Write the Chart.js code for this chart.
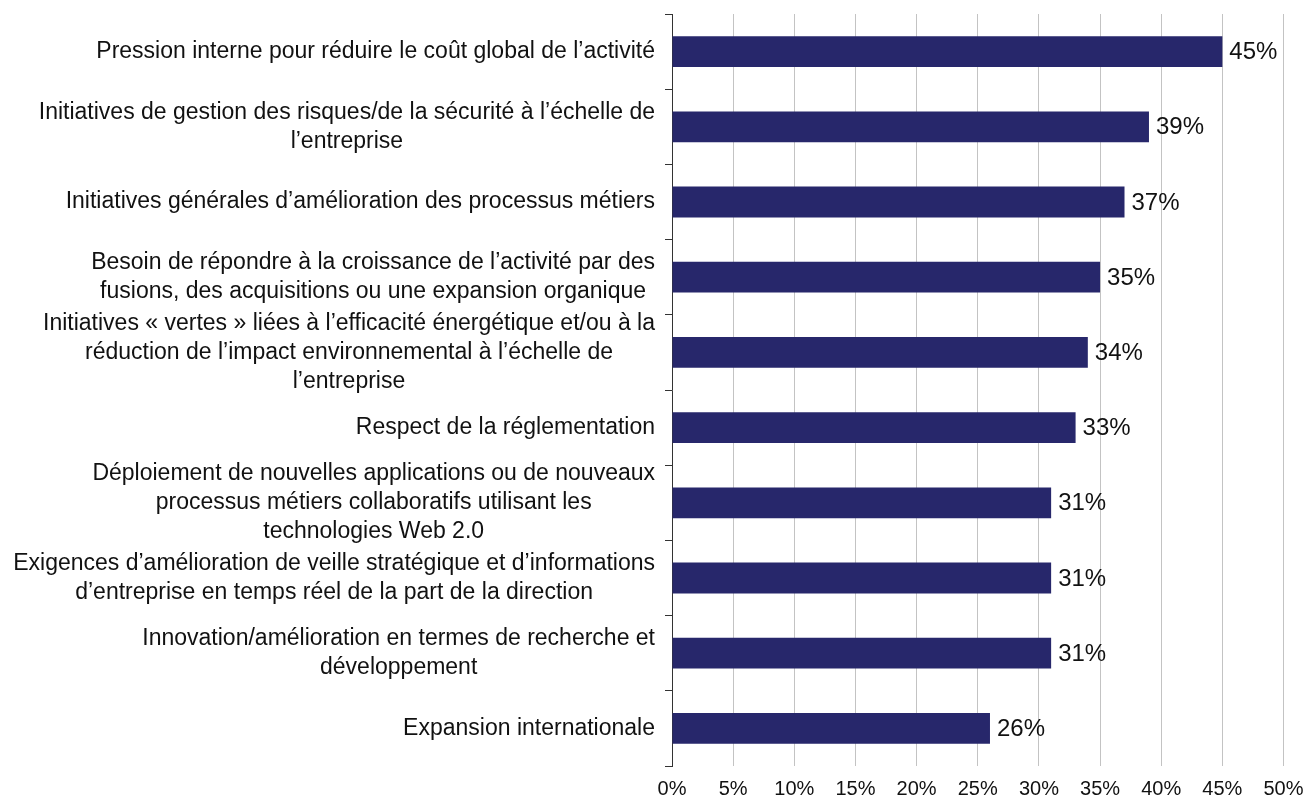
<!DOCTYPE html>
<html>
<head>
<meta charset="utf-8">
<script src="https://cdn.jsdelivr.net/npm/chart.js@4/dist/chart.umd.min.js"></script>
<style>
  html, body { margin: 0; padding: 0; background: #fff; }
  #wrap { width: 1307px; height: 805px; }
</style>
</head>
<body>
<div id="wrap"><canvas id="driversChart" width="1307" height="805"></canvas></div>
<script>
// Data
const categories = [
  ["Pression interne pour réduire le coût global de l’activité"],
  ["Initiatives de gestion des risques/de la sécurité à l’échelle de", "l’entreprise"],
  ["Initiatives générales d’amélioration des processus métiers"],
  ["Besoin de répondre à la croissance de l’activité par des", "fusions, des acquisitions ou une expansion organique"],
  ["Initiatives « vertes » liées à l’efficacité énergétique et/ou à la", "réduction de l’impact environnemental à l’échelle de", "l’entreprise"],
  ["Respect de la réglementation"],
  ["Déploiement de nouvelles applications ou de nouveaux", "processus métiers collaboratifs utilisant les", "technologies Web 2.0"],
  ["Exigences d’amélioration de veille stratégique et d’informations", "d’entreprise en temps réel de la part de la direction"],
  ["Innovation/amélioration en termes de recherche et", "développement"],
  ["Expansion internationale"]
];
const values = [45, 39, 37, 35, 34, 33, 31, 31, 31, 26];
const xTicks = [0, 5, 10, 15, 20, 25, 30, 35, 40, 45, 50];

const FONT = "'Liberation Sans', Arial, sans-serif";
const TEXT = "#111";

// Category labels: right-aligned block, lines centred within it
const categoryLabels = {
  id: "categoryLabels",
  afterDraw(chart) {
    const { ctx } = chart;
    const y = chart.scales.y;
    const right = chart.chartArea.left - 17;
    ctx.save();
    ctx.font = "23px " + FONT;
    ctx.fillStyle = TEXT;
    ctx.textAlign = "center";
    ctx.textBaseline = "middle";
    categories.forEach((lines, i) => {
      const w = Math.max(...lines.map(l => ctx.measureText(l).width));
      const cx = right - w / 2;
      const cy = y.getPixelForTick(i);
      lines.forEach((l, j) => {
        ctx.fillText(l, cx, cy + (j - (lines.length - 1) / 2) * 29);
      });
    });
    ctx.restore();
  }
};

// Value labels at bar ends
const valueLabels = {
  id: "valueLabels",
  afterDatasetsDraw(chart) {
    const { ctx } = chart;
    const meta = chart.getDatasetMeta(0);
    ctx.save();
    ctx.font = "24px " + FONT;
    ctx.fillStyle = TEXT;
    ctx.textAlign = "left";
    ctx.textBaseline = "middle";
    meta.data.forEach((bar, i) => {
      ctx.fillText(values[i] + "%", bar.x + 7, bar.y + 1);
    });
    ctx.restore();
  }
};

const ctx = document.getElementById("driversChart").getContext("2d");
const chart = new Chart(ctx, {
  type: "bar",
  data: {
    labels: categories.map(c => c.join(" ")),
    datasets: [{
      data: values,
      backgroundColor: "#27276b",
      borderWidth: 0,
      categoryPercentage: 1,
      barPercentage: 0.41
    }]
  },
  options: {
    indexAxis: "y",
    responsive: false,
    animation: false,
    layout: { padding: { top: 14, right: 23.5, bottom: 0, left: 0 } },
    plugins: { legend: { display: false }, tooltip: { enabled: false } },
    scales: {
      x: {
        min: 0,
        max: 50,
        afterBuildTicks: scale => { scale.ticks = xTicks.map(v => ({ value: v })); },
        ticks: {
          callback: v => v + "%",
          color: TEXT,
          font: { family: FONT, size: 20 },
          padding: 11,
          maxRotation: 0
        },
        grid: { color: "#c3c3c3", lineWidth: 1, drawTicks: false },
        border: { display: false },
        afterFit: scale => {
          scale.height = 39;
          scale.paddingRight = 0;
          scale.paddingLeft = 0;
        }
      },
      y: {
        ticks: { display: false },
        grid: {
          display: true,
          drawOnChartArea: false,
          drawTicks: true,
          tickLength: 7,
          offset: true,
          color: "#333"
        },
        border: { display: true, color: "#333", width: 1 },
        afterFit: scale => { scale.width = 672; }
      }
    }
  },
  plugins: [categoryLabels, valueLabels]
});
</script>
</body>
</html>
